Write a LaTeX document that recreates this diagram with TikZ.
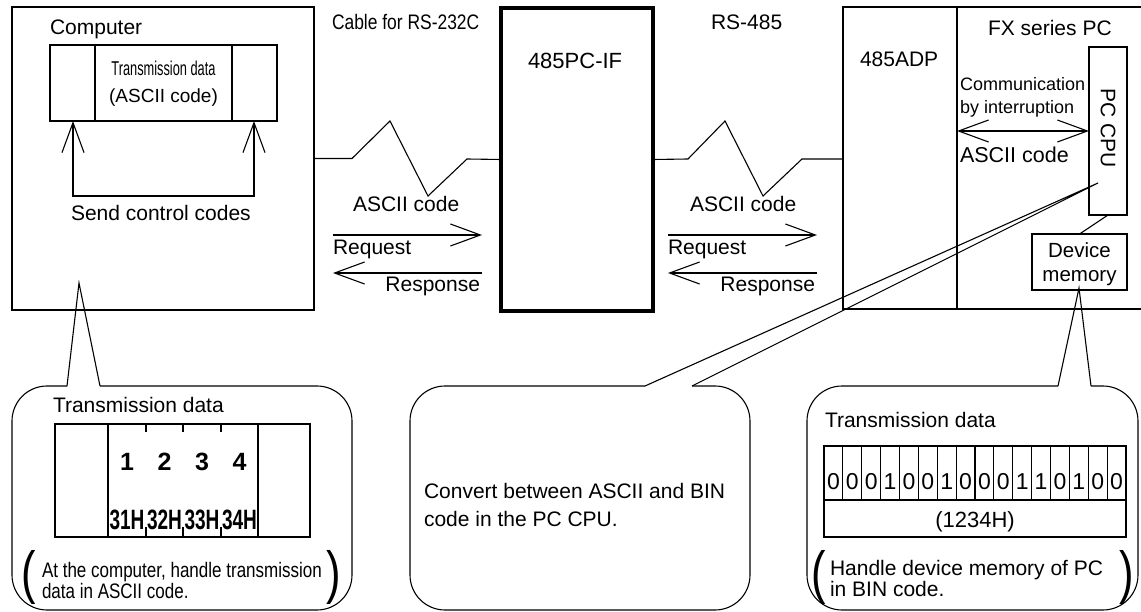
\documentclass[tikz,border=0pt]{standalone}
\usepackage{fontspec}
\setmainfont{Liberation Sans}
\usetikzlibrary{arrows.meta}
\newcommand\fsz[1]{\fontsize{#1}{#1}\selectfont}
\begin{document}
\begin{tikzpicture}[x=1pt,y=-1pt,line width=1.1pt,
  every node/.style={inner sep=0pt,outer sep=0pt},
  box/.style={draw,anchor=north west},
  t/.style={anchor=base west,font=\fsz{21}},
  tc/.style={anchor=base,font=\fsz{21}},
  tr/.style={anchor=base east,font=\fsz{21}},
  barb/.style={-{Straight Barb[length=30pt,width=22pt]}},
  dbarb/.style={{Straight Barb[length=30pt,width=22pt]}-{Straight Barb[length=30pt,width=22pt]}},
  callout/.style={rounded corners=35pt}]
\useasboundingbox (0,0) rectangle (1141,612);

% ---------------- Computer ----------------
\node[box,minimum width=302pt,minimum height=303pt] (comp) at (12,7) {};
\node[t] (comptxt) at (50,35) {Computer};
\node[box,minimum width=227pt,minimum height=76pt] (inbox) at (50,45) {};
\draw (95,45) -- (95,121);
\draw (232,45) -- (232,121);
\node[tc,font=\fsz{20}] (indata) at (163.5,76) {\scalebox{0.64}[1]{Transmission data}};
\node[tc,font=\fsz{19}] (inascii) at (163.5,103) {(ASCII code)};
\coordinate (ctlL) at (73,121);
\coordinate (ctlR) at (254,121);
\draw[dbarb] (ctlL) -- (73,196) -- (254,196) -- (ctlR);
\node[t] (sendtxt) at (71,221) {Send control codes};

% ---------------- 485PC-IF ----------------
\node[box,line width=4pt,minimum width=152pt,minimum height=303pt] (pcif) at (501,8) {};
\node[t,font=\fsz{22}] (pciftxt) at (528,69) {485PC-IF};
\node[t] (cable) at (332,30) {\scalebox{0.83}[1]{Cable for RS-232C}};
\node[t] (rs485) at (711,30) {RS-485};

% cables
\draw (comp.east) -- (352,158.5) -- (390,121) -- (428,196) -- (467,159) -- (pcif.west);
\coordinate (adpW) at (843,159);
\draw (pcif.east) -- (688,159) -- (725,121) -- (763,196) -- (802,159) -- (adpW);

% left arrows
\node[t] (asciiL) at (353,212) {ASCII code};
\coordinate (reqLa) at (333,235); \coordinate (reqLb) at (482,235);
\draw[barb] (reqLa) -- (reqLb);
\node[t] (reqL) at (333,255) {Request};
\coordinate (resLa) at (482,273); \coordinate (resLb) at (333,273);
\draw[barb] (resLa) -- (resLb);
\node[tr] (resL) at (480,292) {Response};

% right arrows
\node[t] (asciiR) at (690,212) {ASCII code};
\coordinate (reqRa) at (668,235); \coordinate (reqRb) at (817,235);
\draw[barb] (reqRa) -- (reqRb);
\node[t] (reqR) at (668,255) {Request};
\coordinate (resRa) at (817,273); \coordinate (resRb) at (668,273);
\draw[barb] (resRa) -- (resRb);
\node[tr] (resR) at (815,292) {Response};

% ---------------- 485ADP / FX ----------------
\draw (1141,7) -- (843,7) -- (843,309) -- (1141,309);
\draw (957,7) -- (957,309);
\node[t] (adptxt) at (860,67) {485ADP};
\node[t] (fxtxt) at (988,36) {FX series PC};
\node[box,minimum width=38pt,minimum height=168pt] (cpu) at (1089,47) {};
\node[font=\fsz{21},rotate=-90] (cputxt) at (1108,128) {PC CPU};
\node[box,minimum width=95pt,minimum height=56pt] (dev) at (1032,234) {};
\draw (cpu.south) -- (dev.north);
\node[tc,font=\fsz{20.5}] (devtxt1) at (dev.center |- 0,258) {Device};
\node[tc,font=\fsz{20.5}] (devtxt2) at (dev.center |- 0,282) {memory};
\node[t,font=\fsz{18}] (comm1) at (960,91) {Communication};
\node[t,font=\fsz{18}] (comm2) at (960,114) {by interruption};
\coordinate (commL) at (957,131);
\draw[dbarb] (commL) -- (cpu.west |- commL);
\node[t,font=\fsz{21.5}] (asciiF) at (960,163) {ASCII code};

% ---------------- Callout left ----------------
\coordinate (apexL) at (79,283);
\draw[callout] (100,386) -- (352,386) -- (352,610) -- (12,610) -- (12,386) -- (67,386);
\draw (67,386) -- (apexL) -- (100,386);
\node[t] (tdL) at (53,413) {Transmission data};
\node[box,minimum width=255pt,minimum height=113pt] (tabL) at (55,424) {};
\draw[line width=1.6pt] (108,424) -- (108,537);
\draw[line width=1.6pt] (258,424) -- (258,537);
\foreach \x in {146,183,221}{
  \draw (\x,424) -- (\x,432);
  \draw (\x,527) -- (\x,537);
}
\foreach \d/\x in {1/127,2/164.5,3/202,4/239.5}{
  \node[tc,font=\fsz{25}\bfseries] (dig\d) at (\x,470) {\d};
}
\foreach \h/\x in {31H/127,32H/164.5,33H/202,34H/239.5}{
  \node[tc,font=\fsz{28}\bfseries] (hex\h) at (\x,529) {\scalebox{0.68}[1]{\h}};
}
\node[font=\fsz{58}] (lpL) at (29,577) {\scalebox{0.75}[1]{(}};
\node[font=\fsz{58}] (rpL) at (334,577) {\scalebox{0.75}[1]{)}};
\node[t] (noteL1) at (42,577) {\scalebox{0.81}[1]{At the computer, handle transmission}};
\node[t] (noteL2) at (42,598) {\scalebox{0.81}[1]{data in ASCII code.}};

% ---------------- Callout middle ----------------
\coordinate (apexM) at (1098,183);
\draw[callout] (692,386) -- (750,386) -- (750,610) -- (410,610) -- (410,386) -- (645,386);
\draw (645,386) -- (apexM) -- (692,386);
\node[t] (conv1) at (424,498) {Convert between ASCII and BIN};
\node[t] (conv2) at (424,526) {code in the PC CPU.};

% ---------------- Callout right ----------------
\coordinate (apexR) at (1079,288);
\draw[callout] (1091,386) -- (1138,386) -- (1138,610) -- (807,610) -- (807,386) -- (1058,386);
\draw (1058,386) -- (apexR) -- (1091,386);
\node[t] (tdR) at (825,428) {Transmission data};
\node[box,minimum width=302pt,minimum height=91pt] (tabR) at (824,446) {};
\draw (824,500) -- (1126,500);
\foreach \i in {1,...,15}{
  \draw ({824+18.875*\i},446) -- ({824+18.875*\i},500);
}
\foreach \b [count=\i from 0] in {0,0,0,1,0,0,1,0,0,0,1,1,0,1,0,0}{
  \node[tc,font=\fsz{23}] (bit\i) at ({824+18.875*(\i+0.5)},489) {\b};
}
\node[tc,font=\fsz{22}] (hexR) at (975,527) {(1234H)};
\node[font=\fsz{58}] (lpR) at (819,577) {\scalebox{0.75}[1]{(}};
\node[font=\fsz{58}] (rpR) at (1127,577) {\scalebox{0.75}[1]{)}};
\node[t] (noteR1) at (830,575) {Handle device memory of PC};
\node[t] (noteR2) at (830,596) {in BIN code.};
\end{tikzpicture}
\end{document}
